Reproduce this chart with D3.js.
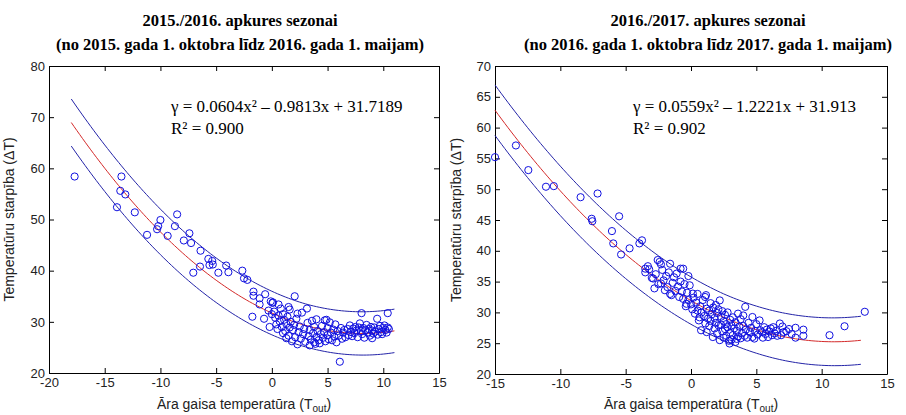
<!DOCTYPE html>
<html>
<head>
<meta charset="utf-8">
<script src="https://cdn.jsdelivr.net/npm/d3@7"></script>
<style>
  body { margin: 0; background: #fff; }
  .tick text { font-family: "Liberation Sans", Arial, sans-serif; font-size: 13px; fill: #222; }
  .tick line, .domain { stroke: #000; }
</style>
</head>
<body>
<script>
'use strict';

var width = 906,
    height = 415;

// season titles
var titles15 = ["2015./2016. apkures sezonai", "(no 2015. gada 1. oktobra līdz 2016. gada 1. maijam)"];
var titles16 = ["2016./2017. apkures sezonai", "(no 2016. gada 1. oktobra līdz 2017. gada 1. maijam)"];

// fitted polynomial a*x^2 + b*x + c, as printed on the chart
var fit15 = [0.0604, -0.9813, 31.7189];
var fit16 = [0.0559, -1.2221, 31.913];
var eq15 = ["γ = 0.0604x² – 0.9813x + 31.7189", "R² = 0.900"];
var eq16 = ["γ = 0.0559x² – 1.2221x + 31.913", "R² = 0.902"];

// prediction bound half width, read at a few x positions
var boundX15 = [-18, 3, 11],
    boundHalf15 = [4.6, 4.2, 4.25];
var boundX16 = [-15, 2.5, 13],
    boundHalf16 = [4.1, 3.8, 3.9];

// axis ticks
var xTicks15 = [-20, -15, -10, -5, 0, 5, 10, 15],
    yTicks15 = [20, 30, 40, 50, 60, 70, 80];
var xTicks16 = [-15, -10, -5, 0, 5, 10, 15],
    yTicks16 = [20, 25, 30, 35, 40, 45, 50, 55, 60, 65, 70];

// daily points: [outdoor temperature, temperature difference]
var points15 = [
  [-17.7,58.4],[-13.5,58.4],[-13.6,55.6],[-13.15,54.9],[-13.9,52.4],[-12.3,51.4],[-11.2,47.0],[-10.3,48.1],
  [-10.2,48.7],[-10.0,49.9],[-9.35,46.8],[-8.7,48.7],[-8.5,51.0],[-7.9,45.9],[-7.4,47.3],[-7.25,45.4],
  [-6.4,43.9],[-6.45,40.8],[-7.05,39.6],[-5.7,42.3],[-5.35,41.9],[-5.6,41.1],[-5.3,41.2],[-4.8,39.6],
  [-4.1,41.0],[-3.9,39.7],[-2.65,40.0],[-2.5,38.5],[-2.2,38.2],
  [-1.65,35.9],[-1.65,35.1],[-1.1,34.6],[-1.1,33.4],[-1.75,31.0],[-0.6,35.4],[-0.1,34.0],[-0.7,30.6],
  [-0.3,32.2],[-0.2,29.0],[0.0,31.5],[0.05,33.7],[0.1,33.8],[0.2,32.0],[0.3,30.8],[0.4,29.5],[0.5,28.6],
  [0.6,33.4],[0.6,31.2],[0.7,30.1],[0.8,32.6],[0.9,29.0],[1.0,27.8],[1.0,31.5],[1.1,30.4],[1.2,28.2],
  [1.3,26.8],[1.3,29.6],[1.4,31.0],[1.5,32.9],[1.5,27.3],[1.6,32.4],[1.6,28.9],[1.7,30.0],[1.8,26.2],
  [1.9,28.4],[2.0,29.4],[2.05,35.0],[2.1,27.0],[2.2,30.6],[2.3,31.6],[2.3,25.6],[2.4,28.0],[2.5,29.1],
  [2.6,26.7],[2.7,31.8],[2.8,27.6],[2.9,28.6],[3.0,26.1],[3.15,32.6],[3.2,29.8],[3.3,27.2],[3.4,25.4],
  [3.4,28.4],[3.5,26.5],[3.6,30.2],[3.7,27.8],[3.8,26.0],[3.8,29.0],[3.9,25.7],[4.0,27.0],[4.0,30.5],
  [4.1,28.2],[4.2,26.4],[4.3,25.8],[4.4,27.6],[4.5,29.2],[4.6,26.9],[4.7,28.0],[4.75,30.3],[4.8,26.2],
  [4.9,30.4],[5.0,27.4],[5.0,28.8],[5.1,26.6],[5.2,29.9],[5.3,27.9],[5.4,26.4],[5.5,28.5],[5.6,27.1],
  [5.7,29.5],[5.8,26.0],[5.9,28.2],[6.0,27.3],[6.1,22.2],[6.2,28.8],[6.3,26.7],[6.4,27.9],[6.5,28.4],
  [6.6,27.0],[6.8,28.6],[6.9,27.4],[7.0,29.3],[7.1,28.0],[7.2,27.2],[7.3,28.7],[7.4,27.8],[7.5,29.0],
  [7.6,28.3],[7.7,27.0],[7.8,28.9],[7.9,29.7],[8.05,31.7],[8.0,28.2],[8.1,27.6],[8.2,28.8],[8.3,26.9],
  [8.4,28.4],[8.5,29.4],[8.6,27.9],[8.7,28.6],[8.8,27.3],[8.9,29.0],[9.0,26.8],[9.0,28.3],[9.1,27.7],
  [9.2,28.9],[9.3,28.1],[9.45,30.6],[9.5,27.5],[9.6,28.6],[9.7,29.2],[9.8,28.0],[9.9,27.6],[10.0,28.8],
  [10.1,29.3],[10.2,28.4],[10.3,27.9],[10.4,31.7],[10.4,28.9],[10.5,28.6]
];

var points16 = [
  [-15.0,55.2],[-13.4,57.1],[-12.45,53.1],[-11.1,50.4],[-10.5,50.5],[-8.45,48.7],[-7.15,49.3],[-7.6,45.2],
  [-7.55,44.8],[-5.5,45.6],[-6.05,43.2],[-5.95,41.2],[-5.35,39.4],[-4.7,40.4],[-3.95,41.2],[-3.75,41.7],
  [-3.5,37.1],[-3.3,37.5],[-2.55,38.5],[-2.4,38.2],[-2.3,37.8],[-1.6,37.9],[-0.8,37.1],[-0.6,37.1],[-0.2,35.9],
  [-3.5,36.5],[-3.2,37.0],[-3.0,35.6],[-2.9,35.5],[-2.8,33.9],[-2.7,36.2],[-2.5,34.6],[-2.3,34.7],[-2.2,36.9],
  [-2.1,35.2],[-2.0,33.6],[-1.9,35.9],[-1.8,34.1],[-1.7,36.5],[-1.6,33.0],[-1.5,32.8],[-1.4,34.8],[-1.3,35.7],
  [-1.2,33.5],[-1.1,36.3],[-1.0,34.2],[-0.9,32.5],[-0.8,35.0],[-0.7,33.4],[-0.6,32.2],[-0.5,34.6],[-0.4,31.0],
  [-0.35,31.4],[-0.3,33.2],[-0.2,32.0],[-0.1,34.4],[0.0,31.3],[0.1,30.5],[0.14,33.05],[0.2,32.4],[0.3,29.8],
  [0.4,31.6],[0.5,33.0],[0.5,30.3],[0.6,28.7],[0.65,29.2],[0.7,31.0],[0.77,27.1],[0.8,30.0],[0.9,32.0],
  [1.0,29.4],[1.08,32.5],[1.1,28.2],[1.15,32.8],[1.2,26.8],[1.2,30.6],[1.3,29.0],[1.4,30.3],[1.4,27.8],
  [1.5,31.5],[1.5,28.6],[1.6,29.7],[1.67,26.0],[1.7,30.8],[1.8,27.4],[1.8,29.1],[1.9,31.2],[1.9,28.3],
  [2.0,29.9],[2.0,26.6],[2.1,30.5],[2.1,27.9],[2.2,31.95],[2.2,25.5],[2.3,29.3],[2.3,28.0],[2.4,26.9],
  [2.4,30.2],[2.5,28.6],[2.5,25.9],[2.6,29.6],[2.6,27.3],[2.7,28.1],[2.7,26.2],[2.8,30.0],[2.8,27.6],
  [2.9,25.4],[2.95,24.95],[3.0,28.8],[3.0,26.7],[3.1,27.9],[3.1,25.6],[3.2,29.2],[3.2,26.3],[3.3,27.4],
  [3.4,28.4],[3.4,25.2],[3.5,25.7],[3.5,27.0],[3.6,29.8],[3.6,26.1],[3.7,27.7],[3.8,28.9],[3.8,25.8],
  [3.9,26.6],[4.0,27.8],[4.0,29.5],[4.1,26.2],[4.15,30.9],[4.2,27.2],[4.3,25.9],[4.4,28.3],[4.5,26.8],
  [4.6,27.5],[4.7,29.25],[4.7,26.0],[4.85,25.75],[4.9,27.0],[5.0,28.1],[5.1,26.4],[5.25,28.7],[5.3,27.1],
  [5.45,26.8],[5.5,25.9],[5.6,27.6],[5.7,26.5],[5.8,27.2],[5.9,26.0],[6.0,26.9],[6.1,27.4],[6.2,26.3],
  [6.3,27.6],[6.4,26.6],[6.5,27.0],[6.6,26.2],[6.8,28.2],[6.9,26.3],[7.0,27.7],[7.1,26.8],[7.3,26.95],
  [7.5,27.3],[7.7,26.5],[8.0,27.5],[8.0,25.9],[8.6,27.2],[8.6,26.2],[10.6,26.3],[11.75,27.75],[13.3,30.1]
];

var svg = d3.select("body").append("svg")
    .attr("width", width)
    .attr("height", height);

drawPanel({
  box: [49, 66, 439, 373],
  xDomain: [-20, 15], yDomain: [20, 80],
  xTicks: xTicks15, yTicks: yTicks15,
  titles: titles15, titleX: 240,
  eq: eq15, eqX: 171,
  fit: fit15, boundX: boundX15, boundHalf: boundHalf15,
  points: points15, ylabelX: 14
});

drawPanel({
  box: [495, 66, 887, 374],
  xDomain: [-15, 15], yDomain: [20, 70],
  xTicks: xTicks16, yTicks: yTicks16,
  titles: titles16, titleX: 708,
  eq: eq16, eqX: 633,
  fit: fit16, boundX: boundX16, boundHalf: boundHalf16,
  points: points16, ylabelX: 461
});

function drawPanel(p) {
  var x = d3.scaleLinear().domain(p.xDomain).range([p.box[0], p.box[2]]),
      y = d3.scaleLinear().domain(p.yDomain).range([p.box[3], p.box[1]]);
  var g = svg.append("g");
  var plain = function(d) { return String(d); };  // hyphen minus, like the original

  // titles
  g.selectAll(".title")
    .data(p.titles)
    .enter().append("text")
      .attr("x", p.titleX)
      .attr("y", function(d, i) { return 26 + i * 24; })
      .attr("text-anchor", "middle")
      .style("font-family", "'Liberation Serif', 'Times New Roman', serif")
      .style("font-weight", "bold")
      .style("font-size", "16.5px")
      .text(function(d) { return d; });

  // axes, ticks pointing inward on all sides
  g.append("g")
    .attr("transform", "translate(0," + p.box[3] + ")")
    .call(d3.axisBottom(x).tickValues(p.xTicks).tickSizeInner(-5).tickSizeOuter(0).tickPadding(5).tickFormat(plain));
  g.append("g")
    .attr("transform", "translate(0," + p.box[1] + ")")
    .call(d3.axisTop(x).tickValues(p.xTicks).tickSizeInner(-5).tickSizeOuter(0).tickFormat(""));
  g.append("g")
    .attr("transform", "translate(" + p.box[0] + ",0)")
    .call(d3.axisLeft(y).tickValues(p.yTicks).tickSizeInner(-5).tickSizeOuter(0).tickPadding(4).tickFormat(plain));
  g.append("g")
    .attr("transform", "translate(" + p.box[2] + ",0)")
    .call(d3.axisRight(y).tickValues(p.yTicks).tickSizeInner(-5).tickSizeOuter(0).tickFormat(""));

  // axis labels
  var xl = g.append("text")
      .attr("x", (p.box[0] + p.box[2]) / 2)
      .attr("y", 409)
      .attr("text-anchor", "middle")
      .style("font-family", "'Liberation Sans', Arial, sans-serif")
      .style("font-size", "14px")
      .style("fill", "#222");
  xl.append("tspan").text("Āra gaisa temperatūra (T");
  xl.append("tspan").attr("dy", 2.5).style("font-size", "10px").text("out");
  xl.append("tspan").attr("dy", -2.5).text(")");

  g.append("text")
    .attr("transform", "translate(" + p.ylabelX + "," + ((p.box[1] + p.box[3]) / 2) + ") rotate(-90)")
    .attr("text-anchor", "middle")
    .style("font-family", "'Liberation Sans', Arial, sans-serif")
    .style("font-size", "14px")
    .style("fill", "#222")
    .text("Temperatūru starpība (ΔT)");

  // equation
  g.selectAll(".eq")
    .data(p.eq)
    .enter().append("text")
      .attr("x", p.eqX)
      .attr("y", function(d, i) { return 112 + i * 22; })
      .style("font-family", "'Liberation Serif', 'Times New Roman', serif")
      .style("font-size", "17px")
      .text(function(d) { return d; });

  // fit and bounds
  function fitAt(t) { return p.fit[0] * t * t + p.fit[1] * t + p.fit[2]; }
  var half = d3.scaleLinear().domain(p.boundX).range(p.boundHalf);
  var lo = p.boundX[0], hi = p.boundX[p.boundX.length - 1];
  var xs = d3.range(lo, hi, 0.25).concat([hi]);
  var line = d3.line()
      .x(function(d) { return x(d[0]); })
      .y(function(d) { return y(d[1]); });

  var curves = [
    { c: "#2424a8", pts: xs.map(function(t) { return [t, fitAt(t) + half(t)]; }) },
    { c: "#2424a8", pts: xs.map(function(t) { return [t, fitAt(t) - half(t)]; }) },
    { c: "#d42a2a", pts: xs.map(function(t) { return [t, fitAt(t)]; }) }
  ];

  g.selectAll(".curve")
    .data(curves)
    .enter().append("path")
      .attr("d", function(d) { return line(d.pts); })
      .attr("fill", "none")
      .attr("stroke", function(d) { return d.c; })
      .attr("stroke-width", 1);

  g.selectAll(".pt")
    .data(p.points)
    .enter().append("circle")
      .attr("cx", function(d) { return x(d[0]); })
      .attr("cy", function(d) { return y(d[1]); })
      .attr("r", 3.6)
      .attr("fill", "none")
      .attr("stroke", "#1010e0")
      .attr("stroke-width", 1);
}
</script>
</body>
</html>
